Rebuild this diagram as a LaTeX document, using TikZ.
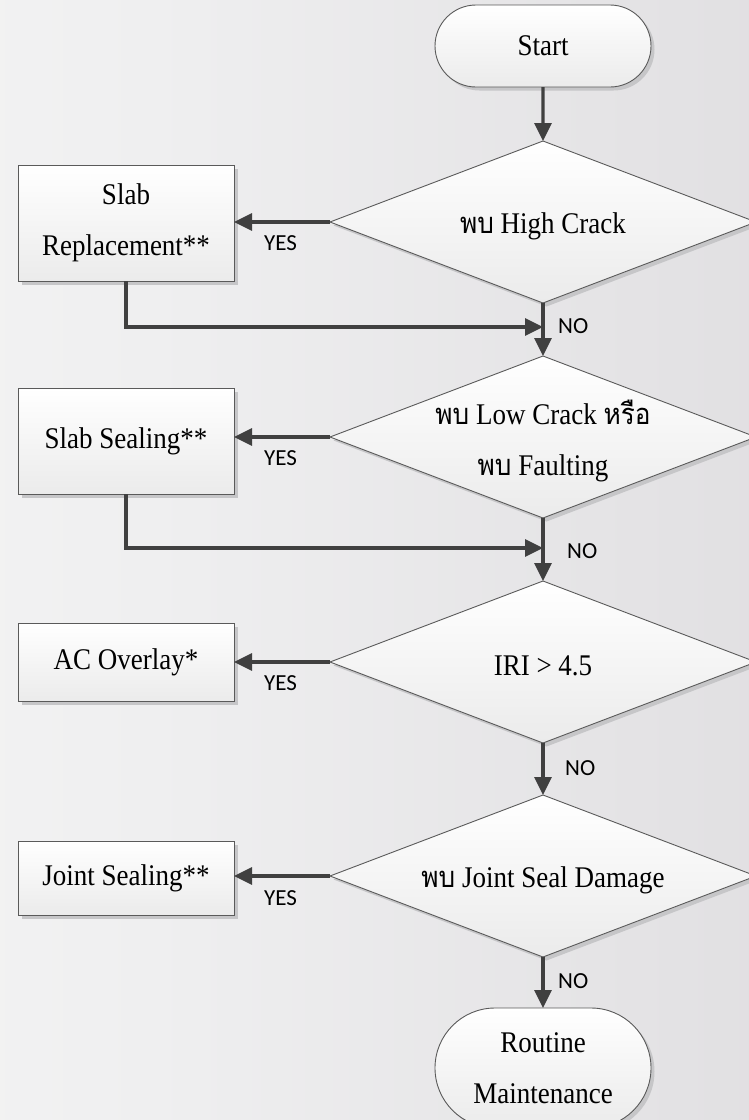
\documentclass[tikz,border=0pt]{standalone}
\usepackage{fontspec}
\setmainfont{Liberation Serif}[FakeStretch=0.9]
\newfontfamily\thaifont[Script=Thai,Scale=0.97,FakeStretch=0.9]{Loma}
\newfontfamily\labfont{Carlito}
\usetikzlibrary{shapes.geometric,shapes.misc,shadows,arrows.meta}

\definecolor{edgegray}{HTML}{404040}
\definecolor{rimgray}{HTML}{5A5A5A}
\definecolor{shadowgray}{HTML}{C6C6C8}
\definecolor{bgL}{HTML}{F8F8F8}
\definecolor{bgM}{HTML}{EFEFF0}
\definecolor{bgR}{HTML}{D9D7DA}
\definecolor{fillbot}{HTML}{EBEBEB}
\pgfdeclarehorizontalshading{bgshade}{100bp}{color(0bp)=(bgL); color(35bp)=(bgM); color(100bp)=(bgR)}

\tikzset{
  shapebase/.style={draw=rimgray, line width=0.9pt, top color=white, bottom color=fillbot,
    general shadow={fill=shadowgray, shadow xshift=3.5pt, shadow yshift=-3.5pt},
    font=\fontsize{30pt}{51pt}\selectfont, align=center, inner sep=0pt, outer sep=0pt},
  terminal/.style={shapebase, rounded rectangle, minimum width=216pt},
  process/.style={shapebase, rectangle, minimum width=216pt},
  decision/.style={shapebase, diamond, minimum width=426pt, minimum height=162pt, aspect=2.63},
  dtext/.style={font=\fontsize{30pt}{51pt}\selectfont, align=center, inner sep=0pt, yshift=-4pt},
  flow/.style={draw=edgegray, line width=3.2pt, -{Triangle[length=18pt,width=17pt]}},
  lab/.style={font=\labfont\fontsize{23pt}{23pt}\selectfont, inner sep=0pt, anchor=west, text=black}
}

\begin{document}
\begin{tikzpicture}[x=1pt,y=-1pt]
  \useasboundingbox (0,0) rectangle (749,1120);
  \clip (0,0) rectangle (749,1120);
  \shade[shading=bgshade] (0,0) rectangle (749,1120);

  % main column
  \node[terminal, minimum height=82pt] (start) at (543,46) {Start};
  \node[decision, label={[dtext]center:{\thaifont พบ} High Crack}] (d1) at (543,222) {};
  \node[decision, label={[dtext]center:{{\thaifont พบ} Low Crack {\thaifont หรือ}\\{\thaifont พบ} Faulting}}] (d2) at (543,437) {};
  \node[decision, label={[dtext]center:IRI > 4.5}] (d3) at (543,662) {};
  \node[decision, label={[dtext]center:{\thaifont พบ} Joint Seal Damage}] (d4) at (543,876) {};
  \node[terminal, minimum height=120pt] (stop) at (543,1068) {Routine\\Maintenance};

  % treatment boxes
  \node[process, minimum height=116pt] (s1) at (126,223) {Slab\\Replacement**};
  \node[process, minimum height=106pt] (s2) at (126,441) {Slab Sealing**};
  \node[process, minimum height=78pt] (s3) at (126,662) {AC Overlay*};
  \node[process, minimum height=74pt] (s4) at (126,878) {Joint Sealing**};

  % merge points on the main column
  \coordinate (m1) at (543,327);
  \coordinate (m2) at (543,548);

  % connectors
  \draw[flow] (start) -- (d1);
  \draw[flow] (d1.west) -- (d1.west -| s1.east);
  \draw[flow] (s1.south) |- (m1);
  \draw[flow] (d1.south) -- (d2.north);
  \draw[flow] (d2.west) -- (d2.west -| s2.east);
  \draw[flow] (s2.south) |- (m2);
  \draw[flow] (d2.south) -- (d3.north);
  \draw[flow] (d3.west) -- (d3.west -| s3.east);
  \draw[flow] (d3.south) -- (d4.north);
  \draw[flow] (d4.west) -- (d4.west -| s4.east);
  \draw[flow] (d4.south) -- (stop.north);

  % branch labels
  \node[lab] (y1) at (264,243) {YES};
  \node[lab] (y2) at (264,458) {YES};
  \node[lab] (y3) at (264,683) {YES};
  \node[lab] (y4) at (264,898) {YES};
  \node[lab] (n1) at (558,326) {NO};
  \node[lab] (n2) at (567,551) {NO};
  \node[lab] (n3) at (565,768) {NO};
  \node[lab] (n4) at (558,981) {NO};
\end{tikzpicture}
\end{document}
